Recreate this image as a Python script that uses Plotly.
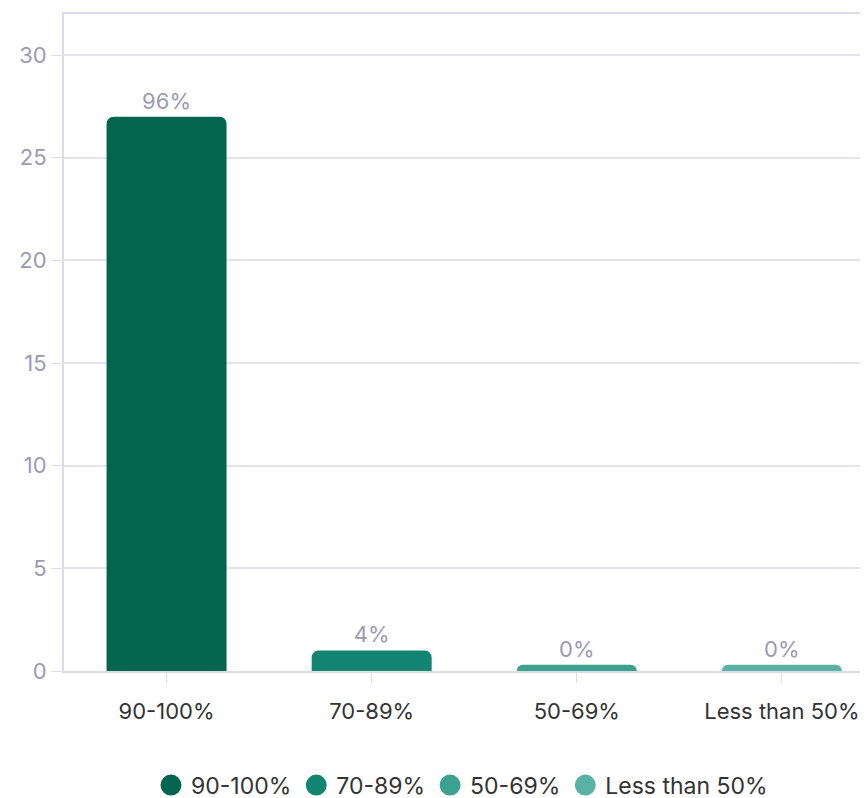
import plotly.graph_objects as go

categories = ["90-100%", "70-89%", "50-69%", "Less than 50%"]
counts = [27, 1, 0, 0]
percent_labels = ["96%", "4%", "0%", "0%"]
colors = ["#03654f", "#118571", "#3ba28f", "#5ab2a4"]

MIN_VISIBLE = 0.3  # zero bars are drawn as a thin stub

FONT = "Inter"
FS = 22
fig = go.Figure()
for cat, val, lab, col in zip(categories, counts, percent_labels, colors):
    fig.add_trace(go.Bar(
        x=[cat], y=[max(val, MIN_VISIBLE)], text=[lab],
        textposition="outside", cliponaxis=False,
        textfont=dict(color="#9b9bb3", size=FS, family=FONT),
        marker=dict(color=col, line=dict(width=0)),
        width=0.585, showlegend=False, hoverinfo="skip",
    ))
for cat, col in zip(categories, colors):
    fig.add_trace(go.Scatter(
        x=[None], y=[None], mode="markers", name=cat,
        marker=dict(symbol="circle", size=16, color=col, line=dict(color=col, width=5)),
    ))

fig.update_layout(
    width=860, height=812,
    margin=dict(l=56, r=0, t=6, b=149),
    plot_bgcolor="white", paper_bgcolor="white",
    barmode="overlay", barcornerradius=7,
    font=dict(family=FONT, color="#333333", size=FS),
    legend=dict(orientation="h", x=0.495, xanchor="center", y=-0.141, yanchor="top",
                font=dict(size=23, color="#333333"), itemwidth=30, tracegroupgap=0),
    xaxis=dict(
        categoryorder="array", categoryarray=categories,
        range=[-0.5, 3.42], showline=True, linecolor="#dcdce8", linewidth=2,
        mirror=True, ticks="outside", ticklen=10, tickcolor="#dcdce8",
        ticklabelstandoff=10,
        tickfont=dict(size=FS, color="#333333"), showgrid=False,
    ),
    yaxis=dict(
        range=[0, 32], tickvals=[0, 5, 10, 15, 20, 25, 30],
        showline=True, linecolor="#dcdce8", linewidth=2,
        ticks="outside", ticklen=11, tickcolor="#dcdce8",
        gridcolor="#e3e3ee", gridwidth=1.5, zeroline=False,
        tickfont=dict(size=FS, color="#9b9bb3"),
    ),
)

fig.write_html("out.html")
